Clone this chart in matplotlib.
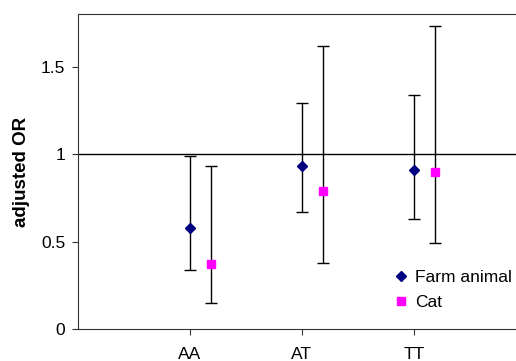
import numpy as np
import matplotlib.pyplot as plt

genotypes = ['AA', 'AT', 'TT']
farm_or = [0.58, 0.93, 0.91]
farm_lo = [0.34, 0.67, 0.63]
farm_hi = [0.99, 1.29, 1.34]
cat_or = [0.37, 0.79, 0.90]
cat_lo = [0.15, 0.38, 0.49]
cat_hi = [0.93, 1.62, 1.73]

plt.rcParams['font.family'] = ['Liberation Sans', 'DejaVu Sans']

fig = plt.figure(figsize=(5.16, 3.61), dpi=100)
ax = fig.add_axes([0.151, 0.0886, 0.868, 0.872])

x = np.arange(1, len(genotypes) + 1)
off = 0.19

farm_err = [np.subtract(farm_or, farm_lo), np.subtract(farm_hi, farm_or)]
cat_err = [np.subtract(cat_or, cat_lo), np.subtract(cat_hi, cat_or)]

ax.axhline(1, color='black', lw=1, zorder=1)
ax.errorbar(x, farm_or, yerr=farm_err, fmt='D', color='#000080', ms=5.5,
            ecolor='black', elinewidth=1, capsize=4, capthick=1, label='Farm animal', zorder=3)
ax.errorbar(x + off, cat_or, yerr=cat_err, fmt='s', color='#FF00FF', ms=6,
            ecolor='black', elinewidth=1, capsize=4, capthick=1, label='Cat', zorder=3)

ax.set_xlim(0, 4)
ax.set_ylim(0, 1.8)
ax.set_xticks(x)
ax.set_xticklabels(genotypes)
ax.set_yticks([0, 0.5, 1, 1.5])
ax.set_yticklabels(['0', '0.5', '1', '1.5'])
ax.tick_params(axis='both', labelsize=12.5, direction='out', length=4, color='#333333')
ax.tick_params(axis='x', pad=9)
ax.tick_params(axis='y', pad=5)
ax.set_ylabel('adjusted OR', fontsize=13.5, fontweight='bold', labelpad=8)
for s in ax.spines.values():
    s.set_color('#333333')

handles, labels = ax.get_legend_handles_labels()
handles = [h[0] for h in handles]
ax.legend(handles, labels, loc='upper left', bbox_to_anchor=(0.69, 0.21), frameon=False,
          fontsize=12.5, handlelength=0.8, handletextpad=0.4, labelspacing=0.55,
          borderaxespad=0)

fig.savefig('out.png', dpi=100)
